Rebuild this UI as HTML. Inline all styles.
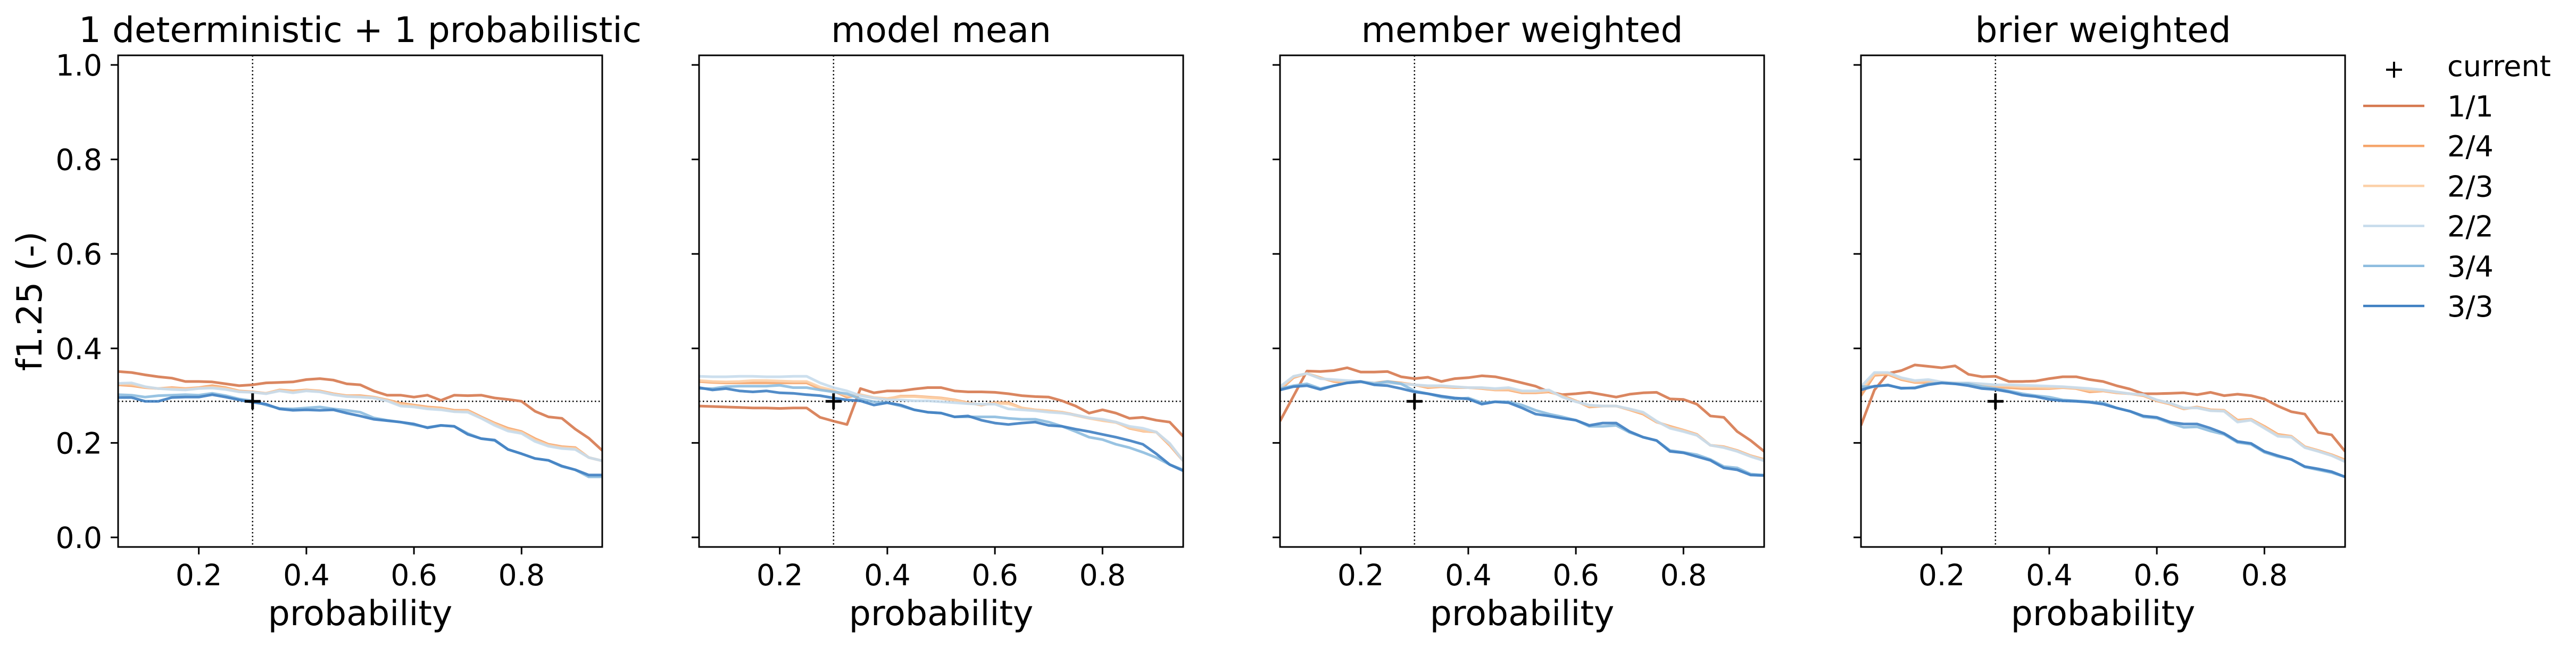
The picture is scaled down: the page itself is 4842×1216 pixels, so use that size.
<!DOCTYPE html>
<html><head><meta charset="utf-8"><style>
html,body{margin:0;padding:0;background:#fff;}
svg{display:block;font-family:"DejaVu Sans","Liberation Sans",sans-serif;}
</style></head><body>
<svg id="fig" width="4842" height="1216" viewBox="0 0 4842 1216" xmlns="http://www.w3.org/2000/svg">
<rect width="4842" height="1216" fill="#fff"/>
</svg>
<script>
const panelTitles = ["1 deterministic + 1 probabilistic","model mean","member weighted","brier weighted"];
const seriesNames = ["1/1","2/4","2/3","2/2","3/4","3/3"];
const seriesColors = ["#d6794f","#f5a56b","#fcd0a8","#c7dcec","#8dbcdf","#3f80c2"];
const xTicks = [0.2,0.4,0.6,0.8];
const xTickLabels = ["0.2","0.4","0.6","0.8"];
const yTicks = [0,0.2,0.4,0.6,0.8,1.0];
const yTickLabels = ["0.0","0.2","0.4","0.6","0.8","1.0"];
const xStart = 0.05, xStep = 0.025;
const currentX = 0.3, currentY = 0.288;

const p1_11=[.351,.349,.344,.340,.337,.330,.330,.329,.325,.321,.323,.327,.328,.329,.334,.336,.333,.325,.323,.310,.301,.301,.297,.301,.290,.301,.300,.301,.295,.292,.288,.267,.255,.252,.229,.210,.184];
const p1_24=[.323,.321,.317,.315,.317,.315,.317,.321,.317,.310,.308,.305,.312,.310,.312,.310,.304,.300,.300,.297,.291,.284,.280,.276,.274,.269,.269,.255,.242,.231,.224,.209,.197,.192,.190,.169,.162];
const p1_23=[.325,.324,.318,.315,.315,.314,.316,.318,.315,.309,.307,.305,.311,.308,.311,.309,.303,.299,.298,.296,.290,.281,.278,.274,.272,.267,.267,.253,.240,.228,.222,.206,.195,.190,.188,.169,.162];
const p1_22=[.326,.327,.319,.315,.313,.312,.315,.316,.313,.308,.307,.304,.310,.306,.310,.308,.302,.298,.297,.295,.289,.278,.276,.272,.270,.266,.265,.252,.237,.225,.220,.203,.193,.188,.186,.169,.162];
const p1_34=[.302,.301,.297,.300,.301,.302,.301,.305,.300,.293,.289,.280,.273,.272,.274,.276,.272,.269,.265,.253,.248,.244,.238,.233,.237,.235,.220,.209,.205,.186,.177,.167,.163,.150,.143,.128,.128];
const p1_33=[.296,.296,.288,.288,.296,.297,.297,.302,.297,.291,.286,.282,.272,.269,.270,.269,.270,.263,.257,.250,.247,.244,.240,.232,.237,.235,.218,.209,.206,.186,.177,.167,.163,.151,.143,.132,.132];

const p2_11=[.278,.277,.276,.275,.274,.274,.273,.274,.274,.254,.246,.239,.315,.306,.310,.310,.314,.317,.317,.310,.308,.308,.307,.304,.300,.298,.297,.289,.278,.263,.270,.263,.252,.254,.248,.244,.214];
const p2_24=[.330,.328,.327,.327,.327,.327,.327,.327,.327,.315,.310,.297,.302,.295,.293,.299,.299,.297,.295,.291,.285,.280,.285,.285,.274,.270,.268,.265,.259,.253,.248,.244,.231,.225,.223,.195,.162];
const p2_23=[.332,.330,.329,.330,.332,.332,.331,.330,.330,.318,.311,.300,.302,.296,.294,.298,.298,.296,.294,.290,.284,.281,.284,.283,.274,.270,.268,.265,.258,.252,.247,.243,.232,.226,.223,.197,.163];
const p2_22=[.341,.340,.340,.341,.341,.340,.340,.341,.341,.327,.317,.310,.300,.295,.291,.291,.289,.289,.287,.285,.283,.282,.282,.272,.270,.268,.265,.263,.259,.253,.250,.244,.235,.231,.223,.199,.162];
const p2_34=[.315,.315,.319,.320,.320,.320,.322,.317,.317,.312,.308,.304,.293,.287,.285,.278,.270,.265,.263,.255,.255,.255,.255,.252,.250,.250,.244,.235,.224,.212,.207,.197,.190,.180,.169,.154,.143];
const p2_33=[.317,.312,.315,.310,.308,.310,.306,.305,.302,.300,.295,.291,.289,.280,.285,.280,.270,.265,.263,.255,.257,.248,.242,.239,.242,.244,.237,.235,.229,.224,.218,.212,.205,.197,.177,.154,.141];

const p3_11=[.246,.299,.352,.351,.353,.359,.350,.350,.351,.340,.336,.339,.330,.336,.338,.342,.340,.334,.327,.320,.308,.302,.304,.307,.302,.297,.303,.306,.307,.293,.292,.282,.257,.254,.224,.205,.182];
const p3_24=[.312,.338,.347,.338,.330,.327,.329,.327,.330,.327,.323,.317,.319,.317,.317,.315,.312,.312,.306,.306,.308,.300,.289,.276,.278,.278,.270,.261,.244,.235,.227,.218,.195,.192,.184,.173,.165];
const p3_23=[.316,.340,.347,.337,.332,.329,.330,.327,.328,.326,.323,.319,.320,.318,.317,.316,.313,.314,.308,.308,.310,.298,.288,.278,.278,.278,.271,.263,.245,.233,.226,.217,.195,.191,.183,.172,.164];
const p3_22=[.319,.341,.347,.336,.334,.332,.330,.327,.327,.325,.323,.321,.321,.319,.317,.317,.315,.317,.310,.310,.312,.297,.287,.280,.278,.278,.272,.265,.246,.231,.224,.216,.195,.190,.182,.171,.162];
const p3_34=[.315,.321,.325,.315,.321,.327,.329,.325,.330,.325,.310,.304,.297,.293,.295,.285,.287,.287,.280,.269,.261,.255,.248,.235,.235,.237,.222,.212,.205,.184,.180,.175,.165,.150,.147,.134,.132];
const p3_33=[.312,.319,.321,.313,.321,.327,.330,.323,.321,.315,.308,.304,.299,.295,.293,.282,.287,.285,.274,.261,.257,.252,.248,.237,.242,.242,.224,.212,.205,.182,.179,.171,.163,.147,.143,.132,.131];

const p4_11=[.237,.312,.347,.353,.365,.362,.359,.363,.345,.340,.341,.330,.330,.331,.336,.340,.340,.334,.330,.321,.314,.304,.304,.305,.306,.302,.307,.300,.303,.300,.293,.278,.266,.261,.222,.217,.182];
const p4_24=[.300,.343,.345,.334,.328,.328,.327,.327,.325,.323,.319,.317,.315,.315,.315,.317,.315,.308,.310,.306,.304,.300,.289,.282,.272,.276,.270,.269,.248,.250,.235,.218,.214,.192,.184,.175,.164];
const p4_23=[.310,.346,.347,.336,.330,.331,.328,.327,.326,.324,.321,.320,.318,.318,.317,.318,.316,.311,.311,.307,.304,.301,.290,.283,.273,.275,.269,.268,.246,.249,.233,.216,.213,.191,.183,.174,.162];
const p4_22=[.319,.349,.349,.338,.332,.334,.329,.327,.327,.325,.323,.323,.322,.321,.320,.319,.317,.315,.312,.308,.304,.302,.291,.284,.274,.274,.268,.267,.244,.248,.231,.214,.212,.190,.182,.173,.160];
const p4_34=[.319,.319,.323,.315,.317,.325,.327,.325,.325,.319,.315,.310,.304,.300,.297,.291,.289,.287,.285,.274,.267,.255,.252,.242,.233,.234,.225,.218,.201,.197,.180,.171,.165,.149,.143,.137,.128];
const p4_33=[.312,.320,.322,.316,.316,.323,.327,.325,.321,.315,.313,.308,.301,.298,.292,.289,.288,.286,.282,.274,.267,.257,.254,.244,.240,.240,.231,.220,.203,.199,.182,.173,.165,.150,.145,.139,.128];

const panelData = [[p1_11,p1_24,p1_23,p1_22,p1_34,p1_33],[p2_11,p2_24,p2_23,p2_22,p2_34,p2_33],[p3_11,p3_24,p3_23,p3_22,p3_34,p3_33],[p4_11,p4_24,p4_23,p4_22,p4_34,p4_33]];

const NS="http://www.w3.org/2000/svg";
const svg=document.getElementById('fig');
function mk(tag,attrs,parent){const e=document.createElementNS(NS,tag);for(const k in attrs)e.setAttribute(k,attrs[k]);(parent||svg).appendChild(e);return e;}
const AX_L=[222,1314,2406,3498], AX_W=910, AX_T=104, AX_B=1028;
const XMIN=0.05,XMAX=0.95,YMIN=-0.0203,YMAX=1.0203;
panelTitles.forEach((title,p)=>{
  const L=AX_L[p];
  const xs=v=>L+(v-XMIN)/(XMAX-XMIN)*AX_W;
  const ys=v=>AX_B-(v-YMIN)/(YMAX-YMIN)*(AX_B-AX_T);
  const g=mk('g',{});
  
  
  const clipId='clip'+p;
  const cp=mk('clipPath',{id:clipId},g);mk('rect',{x:L,y:AX_T,width:AX_W,height:AX_B-AX_T},cp);
  const ref=mk('g',{'clip-path':'url(#'+clipId+')'},g);
  const hl=mk('line',{x1:L,x2:L+AX_W,y1:ys(currentY),y2:ys(currentY),stroke:'#000','stroke-width':2.5,'stroke-dasharray':'2.5 4.5'},ref);
  
  
  const vl=mk('line',{x1:xs(currentX),x2:xs(currentX),y1:AX_T,y2:AX_B,stroke:'#000','stroke-width':2.5,'stroke-dasharray':'2.5 4.5'},ref);
  
  
  panelData[p].forEach((arr,s)=>{
    const pts=arr.map((v,i)=>xs(xStart+i*xStep).toFixed(1)+','+ys(v).toFixed(1)).join(' ');
    const pl=mk('polyline',{points:pts,fill:'none',stroke:seriesColors[s],'stroke-width':5,'stroke-linejoin':'round','stroke-opacity':0.9},ref);
    
    
  });
  const cx=xs(currentX), cy=ys(currentY);
  const mkr=mk('path',{d:`M${cx-15},${cy}H${cx+15}M${cx},${cy-15}V${cy+15}`,stroke:'#000','stroke-width':5,fill:'none'},g);
  
  
  const fr=mk('rect',{x:L,y:AX_T,width:AX_W,height:AX_B-AX_T,fill:'none',stroke:'#000','stroke-width':3},g);
  
  
  xTicks.forEach((t,i)=>{
    mk('line',{x1:xs(t),x2:xs(t),y1:AX_B,y2:AX_B+14,stroke:'#000','stroke-width':3},g);
    const tx=mk('text',{x:xs(t),y:1100,'font-size':55,'text-anchor':'middle',fill:'#000'},g);
    tx.textContent=xTickLabels[i];
    
    
  });
  yTicks.forEach((t,i)=>{
    mk('line',{x1:L-14,x2:L,y1:ys(t),y2:ys(t),stroke:'#000','stroke-width':3},g);
    if(p===0){
      const ty=mk('text',{x:L-30,y:ys(t)+20,'font-size':55,'text-anchor':'end',fill:'#000'},g);
      ty.textContent=yTickLabels[i];
      
      
    }
  });
  const tt=mk('text',{x:L+AX_W/2,y:79,'font-size':66,'text-anchor':'middle',fill:'#000'},g);
  tt.textContent=title;
  
  
  const xl=mk('text',{x:L+AX_W/2,y:1175,'font-size':65,'text-anchor':'middle',fill:'#000'},g);
  xl.textContent='probability';
  
  
});
const yl=mk('text',{x:0,y:0,'font-size':65,'text-anchor':'middle',fill:'#000',transform:'translate(78,566) rotate(-90)'});
yl.textContent='f1.25 (-)';


// legend
const lg=mk('g',{});


const le0=mk('g',{},lg);


mk('path',{d:'M4485,131H4515M4500,116V146',stroke:'#000','stroke-width':4,fill:'none'},le0);
const lt0=mk('text',{x:4600,y:143,'font-size':54,fill:'#000'},le0);lt0.textContent='current';
seriesNames.forEach((n,i)=>{
  const y=199+i*75.2;
  const e=mk('g',{},lg);
  
  
  mk('line',{x1:4442,x2:4557,y1:y,y2:y,stroke:seriesColors[i],'stroke-width':4.5},e);
  const t=mk('text',{x:4600,y:y+20,'font-size':54,fill:'#000'},e);t.textContent=n;
});
</script>
</body></html>
